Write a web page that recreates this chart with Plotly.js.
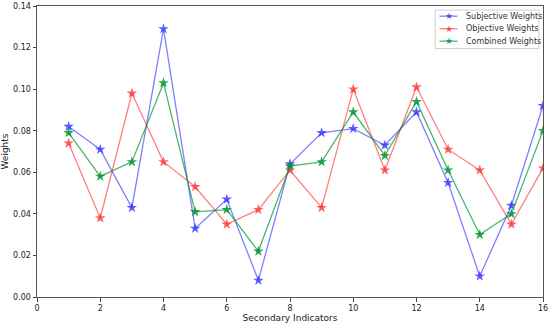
<!DOCTYPE html>
<html><head><meta charset="utf-8">
<script src="https://cdn.plot.ly/plotly-3.0.1.min.js"></script>
<style>html,body{margin:0;padding:0;background:#fff;}#chart{width:550px;height:327px;}</style>
</head><body><div id="chart"></div>
<script>
const indicators = [1,2,3,4,5,6,7,8,9,10,11,12,13,14,15,16];
const subjective = [0.082,0.071,0.043,0.129,0.033,0.047,0.008,0.064,0.079,0.081,0.073,0.089,0.055,0.010,0.044,0.092];
const objective  = [0.074,0.038,0.098,0.065,0.053,0.035,0.042,0.061,0.043,0.100,0.061,0.101,0.071,0.061,0.035,0.062];
const combined   = [0.079,0.058,0.065,0.103,0.041,0.042,0.022,0.063,0.065,0.089,0.068,0.094,0.061,0.030,0.040,0.080];
const xTicks = [0,2,4,6,8,10,12,14,16];
const yTicks = [0,0.02,0.04,0.06,0.08,0.10,0.12,0.14];
const yTickText = ['0.00','0.02','0.04','0.06','0.08','0.10','0.12','0.14'];
const names = ['Subjective Weights','Objective Weights','Combined Weights'];
const series = [subjective, objective, combined];
const colors = ['rgba(0,0,255,0.5)','rgba(255,0,0,0.5)','rgba(0,150,50,0.7)'];
const markerColors = ['rgba(40,40,255,0.75)','rgba(255,40,40,0.75)','rgba(0,150,50,0.85)'];
const traces = series.map((s,i)=>({
  x: indicators, y: s, name: names[i], type:'scatter', mode:'lines+markers',
  line:{color:colors[i], width:1.3},
  marker:{symbol:'star', size:8, color:markerColors[i], line:{width:0}},
  showlegend:false
}));
// custom legend (matplotlib-like compact box)
const lgX0 = 0.787, lgX1 = 0.992, lgY0 = 0.854, lgY1 = 0.986;
const rowY = [0.965, 0.922, 0.879];
const shapes = [{type:'rect', xref:'paper', yref:'paper', x0:lgX0, x1:lgX1, y0:lgY0, y1:lgY1, line:{color:'#d0d0d0', width:1}, fillcolor:'rgba(255,255,255,0.85)'}];
const annotations = [];
names.forEach((n,i)=>{
  shapes.push({type:'line', xref:'paper', yref:'paper', x0:0.7955, x1:0.831, y0:rowY[i], y1:rowY[i], line:{color:colors[i], width:1.3}});
  annotations.push({xref:'paper', yref:'paper', x:0.8133, y:rowY[i], xanchor:'center', yanchor:'middle', text:'★', showarrow:false, font:{size:9, color:markerColors[i], family:'DejaVu Sans'}});
  annotations.push({xref:'paper', yref:'paper', x:0.8435, y:rowY[i], xanchor:'left', yanchor:'middle', text:n, showarrow:false, font:{size:8, color:'#333', family:'DejaVu Sans'}});
});
const layout = {
  width:550, height:327,
  margin:{l:37, r:7, t:6, b:30},
  paper_bgcolor:'#fff', plot_bgcolor:'#fff',
  font:{family:'DejaVu Sans', size:8, color:'#222'},
  showlegend:false,
  shapes: shapes, annotations: annotations,
  xaxis:{range:[0,16], tickvals:xTicks, ticks:'outside', ticklen:3.5, tickcolor:'#444', showgrid:false, zeroline:false, showline:true, linecolor:'#555', linewidth:1, mirror:true, automargin:false, title:{text:'Secondary Indicators', font:{size:9}, standoff:2}},
  yaxis:{range:[0,0.14], tickvals:yTicks, ticktext:yTickText, ticks:'outside', ticklen:3.5, tickcolor:'#444', showgrid:false, zeroline:false, showline:true, linecolor:'#555', linewidth:1, mirror:true, automargin:false, title:{text:'Weights', font:{size:9}, standoff:3}}
};
Plotly.newPlot('chart', traces, layout, {displayModeBar:false, staticPlot:true});
</script></body></html>
